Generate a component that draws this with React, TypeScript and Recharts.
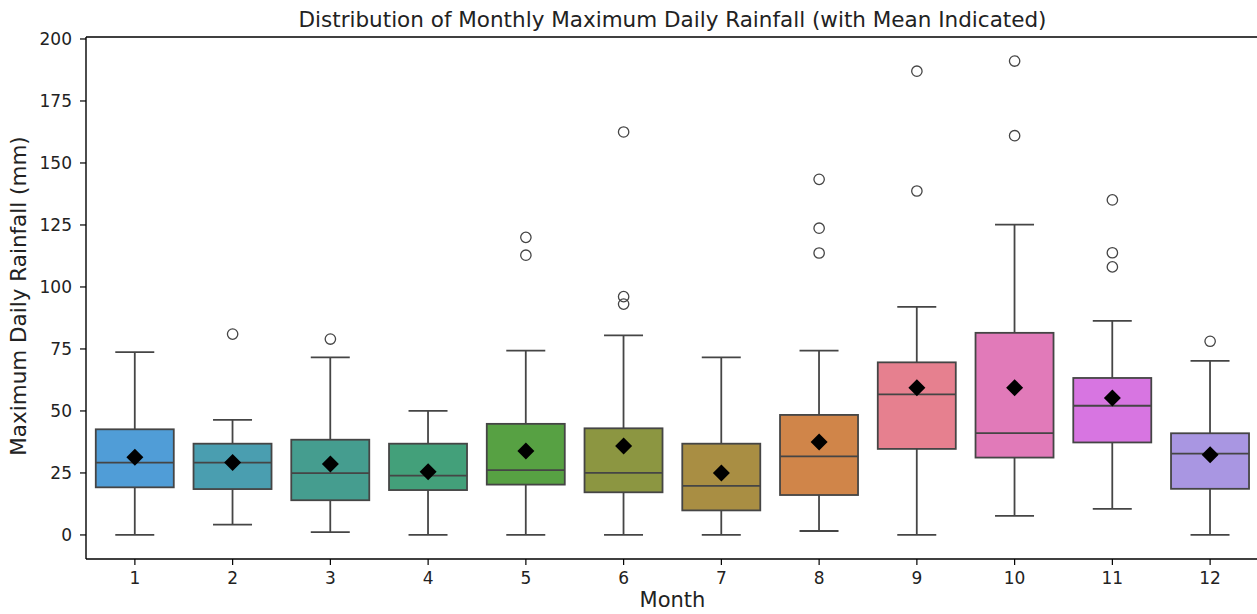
import React from "react";
import {
  ComposedChart,
  Bar,
  Scatter,
  XAxis,
  YAxis,
} from "recharts";

// Box plot statistics per month (mm)
const months = [1, 2, 3, 4, 5, 6, 7, 8, 9, 10, 11, 12];
const whiskerLow = [0, 4.2, 1.1, 0, 0, 0, 0, 1.6, 0, 7.7, 10.5, 0];
const q1 = [19.2, 18.5, 14.0, 18.1, 20.3, 17.2, 9.9, 16.1, 34.7, 31.2, 37.3, 18.6];
const median = [29.2, 29.2, 24.9, 23.9, 26.1, 25.0, 19.8, 31.7, 56.7, 41.1, 52.1, 32.8];
const q3 = [42.6, 36.8, 38.4, 36.8, 44.8, 43.0, 36.8, 48.4, 69.6, 81.5, 63.3, 41.0];
const whiskerHigh = [73.7, 46.4, 71.6, 50.0, 74.3, 80.5, 71.6, 74.3, 92.0, 125.1, 86.3, 70.2];
const means = [31.3, 29.2, 28.6, 25.5, 33.9, 35.9, 25.0, 37.5, 59.4, 59.4, 55.2, 32.3];

// Fliers beyond the whiskers, listed by month
const outliers: [number, number[]][] = [
  [2, [81]],
  [3, [79]],
  [5, [120, 112.8]],
  [6, [162.5, 96.1, 93.1]],
  [8, [143.4, 123.7, 113.7]],
  [9, [187, 138.7]],
  [10, [191.1, 161.0]],
  [11, [135.1, 113.8, 108.1]],
  [12, [78.1]],
];

const boxColors = [
  "#509DD7", "#4A9EB0", "#459D8F", "#43A07A", "#57A143", "#8C9641",
  "#A98E43", "#D08549", "#E6808F", "#E17AB9", "#D775E1", "#A996E2",
];

const yTicks = [0, 25, 50, 75, 100, 125, 150, 175, 200];

const FONT = "'DejaVu Sans', sans-serif";
const EDGE = "#454545";
const BOX_W = 78;

const rows = months.map((m, i) => ({
  month: String(m),
  box: [q1[i], q3[i]],
  whisker: [whiskerLow[i], whiskerHigh[i]],
  fill: boxColors[i],
}));

const medianPoints = months.map((m, i) => ({ month: m, value: median[i] }));
const meanPoints = months.map((m, i) => ({ month: m, value: means[i] }));
const outlierPoints = outliers.flatMap(([m, vals]) =>
  vals.map((v) => ({ month: m, value: v }))
);

const Whisker = (props: any) => {
  const { x, y, width, height } = props;
  const cx = x + width / 2;
  const top = Math.min(y, y + height);
  const bot = Math.max(y, y + height);
  const cap = width / 4;
  return (
    <g stroke={EDGE} strokeWidth={1.8}>
      <line x1={cx} x2={cx} y1={top} y2={bot} />
      <line x1={cx - cap} x2={cx + cap} y1={top} y2={top} />
      <line x1={cx - cap} x2={cx + cap} y1={bot} y2={bot} />
    </g>
  );
};

const Box = (props: any) => {
  const { x, y, width, height, payload } = props;
  const top = Math.min(y, y + height);
  return (
    <rect
      x={x}
      y={top}
      width={width}
      height={Math.abs(height)}
      fill={payload.fill}
      stroke={EDGE}
      strokeWidth={1.8}
    />
  );
};

const MedianLine = (props: any) => {
  const { cx, cy } = props;
  return (
    <line
      x1={cx - BOX_W / 2}
      x2={cx + BOX_W / 2}
      y1={cy}
      y2={cy}
      stroke={EDGE}
      strokeWidth={1.8}
    />
  );
};

const MeanDiamond = (props: any) => {
  const { cx, cy } = props;
  const r = 8.5;
  return (
    <polygon
      points={`${cx},${cy - r} ${cx + r},${cy} ${cx},${cy + r} ${cx - r},${cy}`}
      fill="#000"
    />
  );
};

const Flier = (props: any) => {
  const { cx, cy } = props;
  return <circle cx={cx} cy={cy} r={5.2} fill="none" stroke={EDGE} strokeWidth={1.3} />;
};

export default function App() {
  const tickStyle = { fill: "#222", fontSize: 17, fontFamily: FONT };
  return (
    <div
      style={{
        position: "absolute",
        left: 0,
        top: 0,
        width: 1257,
        height: 614,
        overflow: "hidden",
        background: "#fff",
      }}
    >
      <ComposedChart
        width={1260}
        height={614}
        data={rows}
        margin={{ top: 36, right: 1, bottom: 25, left: 0 }}
        barCategoryGap="10%"
      >
        <XAxis
          xAxisId="main"
          dataKey="month"
          height={30}
          tick={tickStyle}
          tickSize={6}
          tickMargin={7}
          axisLine={{ stroke: "#000", strokeWidth: 1.4 }}
          tickLine={{ stroke: "#000", strokeWidth: 1.2 }}
        />
        {/* top spine of the frame */}
        <XAxis
          xAxisId="top"
          orientation="top"
          dataKey="month"
          height={1}
          tick={false}
          tickLine={false}
          axisLine={{ stroke: "#000", strokeWidth: 1.4 }}
        />
        <XAxis xAxisId="w" dataKey="month" hide />
        <XAxis
          xAxisId="num"
          type="number"
          dataKey="month"
          domain={[0.5, 12.5]}
          hide
        />
        <YAxis
          width={86}
          domain={[-9.7, 200.8]}
          ticks={yTicks}
          allowDataOverflow
          tick={tickStyle}
          tickSize={6}
          tickMargin={8}
          axisLine={{ stroke: "#000", strokeWidth: 1.4 }}
          tickLine={{ stroke: "#000", strokeWidth: 1.2 }}
        />
        <Bar
          xAxisId="w"
          dataKey="whisker"
          shape={Whisker}
          isAnimationActive={false}
        />
        <Bar
          xAxisId="main"
          dataKey="box"
          shape={Box}
          isAnimationActive={false}
        />
        <Scatter
          xAxisId="num"
          data={medianPoints}
          dataKey="value"
          shape={MedianLine}
          isAnimationActive={false}
        />
        <Scatter
          xAxisId="num"
          data={meanPoints}
          dataKey="value"
          shape={MeanDiamond}
          isAnimationActive={false}
        />
        <Scatter
          xAxisId="num"
          data={outlierPoints}
          dataKey="value"
          shape={Flier}
          isAnimationActive={false}
        />
      </ComposedChart>
      <svg
        width={1257}
        height={614}
        style={{ position: "absolute", left: 0, top: 0, pointerEvents: "none" }}
      >
        <text
          x={672.5}
          y={26.7}
          textAnchor="middle"
          fontFamily={FONT}
          fontSize={21.5}
          fill="#222"
        >
          Distribution of Monthly Maximum Daily Rainfall (with Mean Indicated)
        </text>
        <text
          x={672.5}
          y={607}
          textAnchor="middle"
          fontFamily={FONT}
          fontSize={21}
          fill="#222"
        >
          Month
        </text>
        <text
          x={26}
          y={296}
          textAnchor="middle"
          fontFamily={FONT}
          fontSize={21.5}
          fill="#222"
          transform="rotate(-90 26 296)"
        >
          Maximum Daily Rainfall (mm)
        </text>
      </svg>
    </div>
  );
}
